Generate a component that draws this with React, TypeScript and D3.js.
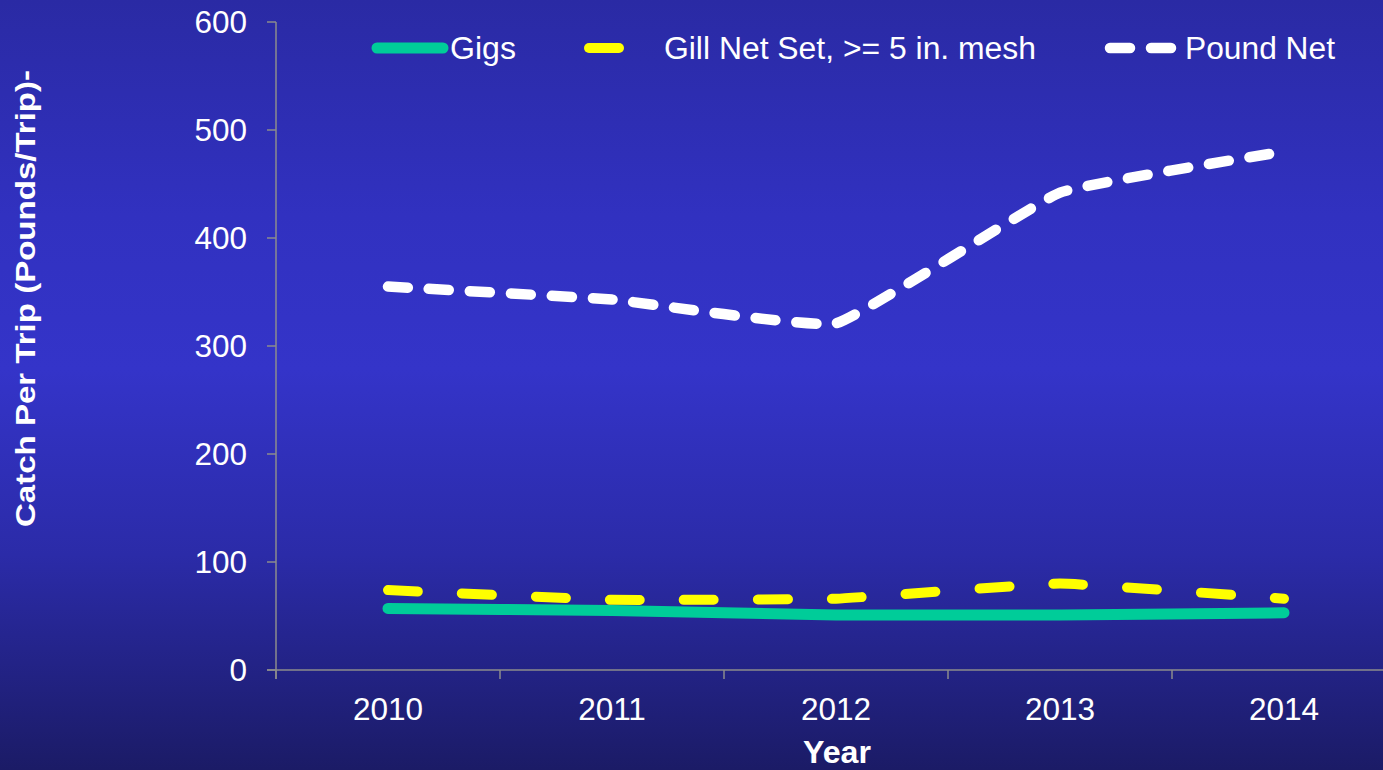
import React from "react";
import * as d3 from "d3";

const years = ["2010", "2011", "2012", "2013", "2014"];
const gigs = [57, 55, 51, 51, 53];
const gillNet = [74, 65, 66, 80, 66];
const poundNet = [355, 343, 321, 442, 480];
const yTicks = [0, 100, 200, 300, 400, 500, 600];
const seriesNames = ["Gigs", "Gill Net Set, >= 5 in. mesh", "Pound Net"];

const W = 1383;
const H = 770;
const FONT = "'Liberation Sans', Arial, sans-serif";

export default function App() {
  const x = d3.scaleBand<string>().domain(years).range([276, 1396]);
  const y = d3.scaleLinear().domain([0, 600]).range([670, 22]);
  const cx = (yr: string) => (x(yr) as number) + x.bandwidth() / 2;

  const line = d3
    .line<number>()
    .x((_, i) => cx(years[i]))
    .y((v) => y(v))
    .curve(d3.curveCardinal.tension(0.7));

  const series = [
    { name: seriesNames[0], values: gigs, color: "#00cc99", dash: "none", width: 11 },
    { name: seriesNames[1], values: gillNet, color: "#ffff00", dash: "30,44", width: 10 },
    { name: seriesNames[2], values: poundNet, color: "#ffffff", dash: "20,21", width: 10.5 },
  ];

  const legend = [
    { x1: 377, x2: 443, tx: 450, len: 66 },
    { x1: 589, x2: 621, tx: 664, len: 372 },
    { x1: 1110, x2: 1174, tx: 1185, len: 150 },
  ];

  return (
    <svg
      width={W}
      height={H}
      style={{ position: "absolute", left: 0, top: 0, display: "block" }}
    >
      <defs>
        <linearGradient id="bg" x1="0" y1="0" x2="0" y2="1">
          <stop offset="0" stopColor="#2a2aa4" />
          <stop offset="0.28" stopColor="#3131c0" />
          <stop offset="0.48" stopColor="#3434c9" />
          <stop offset="0.72" stopColor="#2b2ba8" />
          <stop offset="1" stopColor="#1b1b66" />
        </linearGradient>
      </defs>
      <rect x={0} y={0} width={W} height={H} fill="url(#bg)" />

      {/* Y axis */}
      <line x1={276} x2={276} y1={y(600)} y2={y(0) + 9} stroke="#8c8c8c" strokeWidth={1.5} />
      {yTicks.map((t) => (
        <g key={t}>
          <line x1={267} x2={276} y1={y(t)} y2={y(t)} stroke="#8c8c8c" strokeWidth={1.5} />
          <text
            x={247}
            y={y(t)}
            dy="0.36em"
            textAnchor="end"
            fill="#ffffff"
            fontFamily={FONT}
            fontSize={31.5}
          >
            {t}
          </text>
        </g>
      ))}

      {/* X axis */}
      <line x1={267} x2={W} y1={y(0)} y2={y(0)} stroke="#8c8c8c" strokeWidth={1.5} />
      {years.map((yr) => (
        <g key={yr}>
          <line
            x1={x(yr) as number}
            x2={x(yr) as number}
            y1={y(0)}
            y2={y(0) + 9}
            stroke="#8c8c8c"
            strokeWidth={1.5}
          />
          <text
            x={cx(yr)}
            y={720}
            textAnchor="middle"
            fill="#ffffff"
            fontFamily={FONT}
            fontSize={31.5}
          >
            {yr}
          </text>
        </g>
      ))}

      {/* Axis titles */}
      <text
        x={837}
        y={763}
        textAnchor="middle"
        fill="#ffffff"
        fontFamily={FONT}
        fontSize={31}
        fontWeight="bold"
        textLength={68}
        lengthAdjust="spacingAndGlyphs"
      >
        Year
      </text>
      <text
        transform={`translate(35, 298.5) rotate(-90)`}
        textAnchor="middle"
        fill="#ffffff"
        fontFamily={FONT}
        fontSize={27}
        fontWeight="bold"
        textLength={457}
        lengthAdjust="spacingAndGlyphs"
      >
        Catch Per Trip (Pounds/Trip)-
      </text>

      {/* Series */}
      {series.map((s) => (
        <path
          key={s.name}
          d={line(s.values) || ""}
          fill="none"
          stroke={s.color}
          strokeWidth={s.width}
          strokeDasharray={s.dash}
          strokeLinecap="round"
          strokeLinejoin="round"
        />
      ))}

      {/* Legend */}
      {series.map((s, i) => (
        <g key={"lg" + s.name}>
          <line
            x1={legend[i].x1}
            x2={legend[i].x2}
            y1={48}
            y2={48}
            stroke={s.color}
            strokeWidth={s.width}
            strokeDasharray={s.dash}
            strokeLinecap="round"
          />
          <text
            x={legend[i].tx}
            y={48}
            dy="0.36em"
            fill="#ffffff"
            fontFamily={FONT}
            fontSize={31}
            textLength={legend[i].len}
            lengthAdjust="spacingAndGlyphs"
          >
            {s.name}
          </text>
        </g>
      ))}
    </svg>
  );
}
